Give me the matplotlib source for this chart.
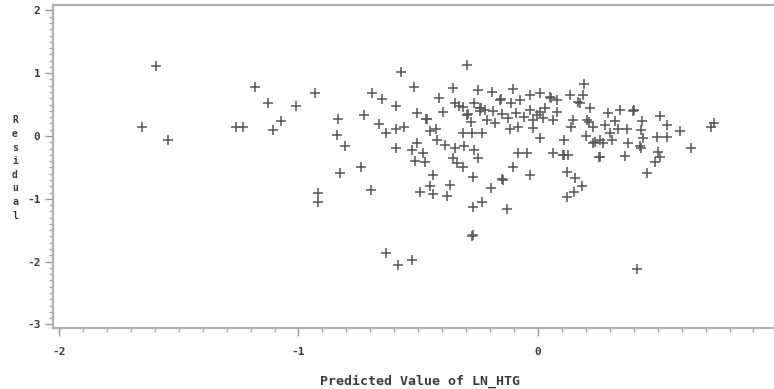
import matplotlib
matplotlib.use("Agg")
import matplotlib.pyplot as plt
from matplotlib.ticker import MultipleLocator, FixedLocator

# Predicted value of LN_HTG vs. residual
pred = [
    -1.596, -1.652, -1.544, -1.261, -1.230, -1.182, -1.129, -1.108, -1.073, -1.010,
    -0.930, -0.841, -0.834, -0.917, -0.917, -0.827, -0.805, -0.739, -0.697, -0.694,
    -0.650, -0.726, -0.665, -0.635, -0.593, -0.560, -0.593, -0.593, -0.572, -0.518,
    -0.504, -0.468, -0.451, -0.426, -0.504, -0.527, -0.481, -0.514, -0.471, -0.437,
    -0.451, -0.493, -0.437, -0.367, -0.379, -0.420, -0.388, -0.348, -0.309, -0.267,
    -0.249, -0.356, -0.337, -0.312, -0.270, -0.197, -0.235, -0.270, -0.131, -0.276,
    -0.147, -0.103, -0.033, -0.295, -0.354, -0.412, -0.398, -0.347, -0.312, -0.298,
    -0.281, -0.267, -0.242, -0.249, -0.193, -0.189, -0.214, -0.178, -0.159, -0.114,
    -0.103, -0.075, -0.092, -0.033, -0.033, 0.008, 0.008, 0.050, 0.081, 0.078,
    0.061, 0.134, 0.189, 0.192, 0.175, 0.217, 0.145, 0.206, 0.231, 0.137,
    0.200, 0.238, 0.256, 0.109, 0.064, 0.106, 0.120, 0.154, 0.182, 0.150,
    0.120, 0.008, -0.047, -0.082, -0.117, -0.082, -0.020, -0.124, -0.020, 0.022,
    -0.315, -0.277, -0.235, -0.272, -0.636, -0.583, -0.527, 0.412, 0.168, 0.294,
    0.342, 0.395, 0.400, 0.509, 0.540, 0.593, 0.722, 0.737, 0.638, 0.498,
    0.537, 0.433, 0.429, 0.321, 0.280, 0.335, 0.370, 0.301, 0.259, 0.231,
    0.273, 0.308, 0.377, 0.426, 0.430, 0.440, 0.363, 0.259, 0.502, 0.509,
    0.489, 0.456, 0.214, 0.109, 0.127, -0.240, -0.220, -0.150, -0.060, 0.030,
    -0.155, -0.463, -0.293, -0.238, -0.150, 0.055, -0.005, -0.330,
]
resid = [
    1.115, 0.138, -0.064, 0.138, 0.138, 0.785, 0.520, 0.096, 0.234, 0.483,
    0.690, 0.021, 0.276, -0.900, -1.046, -0.594, -0.159, -0.489, -0.860, 0.690,
    0.594, 0.330, 0.186, 0.053, 0.107, 0.138, 0.478, -0.186, 1.024, 0.785,
    0.361, 0.276, 0.085, 0.107, -0.106, -0.223, -0.276, -0.393, -0.409, -0.621,
    -0.796, -0.887, -0.924, -0.780, -0.955, -0.064, -0.143, -0.196, -0.159, -0.223,
    -0.355, -0.355, -0.425, -0.489, -0.658, -0.833, -1.046, -1.125, -1.167, -1.590,
    -0.700, -0.489, -0.621, 1.130, 0.760, 0.600, 0.387, 0.520, 0.467, 0.334,
    0.228, 0.520, 0.440, 0.732, 0.705, 0.403, 0.255, 0.202, 0.573, 0.530,
    0.744, 0.573, 0.371, 0.653, 0.414, 0.680, 0.387, 0.626, 0.573, 0.387,
    0.255, 0.653, 0.653, 0.828, 0.530, 0.440, 0.255, 0.255, 0.148, 0.138,
    0.000, -0.090, -0.330, -0.064, -0.265, -0.300, -0.580, -0.675, -0.796, -0.887,
    -0.965, -0.037, -0.276, -0.276, 0.107, 0.148, 0.122, 0.281, 0.255, 0.281,
    0.053, 0.053, 0.053, -1.580, -1.860, -2.050, -1.970, -2.110, 0.547, 0.371,
    0.414, 0.403, 0.420, 0.318, 0.175, 0.085, 0.150, 0.200, -0.196, -0.011,
    -0.021, 0.244, 0.096, 0.244, 0.175, 0.107, 0.107, 0.043, -0.064, -0.117,
    -0.117, -0.064, -0.117, -0.160, -0.190, -0.037, -0.318, -0.340, -0.250, -0.330,
    -0.409, -0.584, 0.228, -0.300, -0.300, 0.400, 0.420, 0.350, 0.300, 0.450,
    0.585, 0.268, 0.345, 0.450, -0.690, 0.600, 0.330, 0.480,
]

x_major = [-2, -1, 0]
x_labels = ["-2", "-1", "0"]
y_major = [-3, -2, -1, 0, 1, 2]
y_labels = ["-3", "-2", "-1", "0", "1", "2"]

W, H = 774, 389
fig = plt.figure(figsize=(W / 100, H / 100), dpi=100)
fig.patch.set_facecolor("white")

# axes box runs slightly past the right edge of the canvas
left, right, top, bottom = 53, 787, 5, 328
ax = fig.add_axes([left / W, 1 - bottom / H, (right - left) / W, (bottom - top) / H])

ax.plot(pred, resid, linestyle="none", marker="+", markersize=6.8,
        markeredgewidth=1.15, color="#5a5a5a")

ax.set_xlim(-2.025, 1.04)
ax.set_ylim(-3.057, 2.086)

font = dict(family="DejaVu Sans Mono", weight="bold")
ax.xaxis.set_major_locator(FixedLocator(x_major))
ax.set_xticklabels(x_labels, fontsize=8, color="#3a3a3a", **font)
ax.xaxis.set_minor_locator(MultipleLocator(0.1))
ax.yaxis.set_major_locator(FixedLocator(y_major))
ax.set_yticklabels(y_labels, fontsize=8, color="#3a3a3a", **font)
ax.yaxis.set_minor_locator(MultipleLocator(0.1))

ax.tick_params(axis="both", which="major", direction="out", length=6,
               width=1.0, color="#999999")
ax.tick_params(axis="x", which="major", pad=8)
ax.tick_params(axis="y", which="major", pad=3)
ax.tick_params(axis="both", which="minor", direction="out", length=3,
               width=1.0, color="#aaaaaa")

for side in ["left", "top", "bottom"]:
    ax.spines[side].set_color("#b0b0b0")
    ax.spines[side].set_linewidth(1.6)
ax.spines["right"].set_visible(False)

ax.set_xlabel("Predicted Value of LN_HTG", fontsize=9.5, color="#3a3a3a",
              labelpad=12, **font)
fig.text(15 / W, 1 - 168 / H, "\n".join("Residual"), ha="center", va="center",
         fontsize=7, color="#3a3a3a", linespacing=1.45, **font)

fig.savefig("out.png", dpi=100)
